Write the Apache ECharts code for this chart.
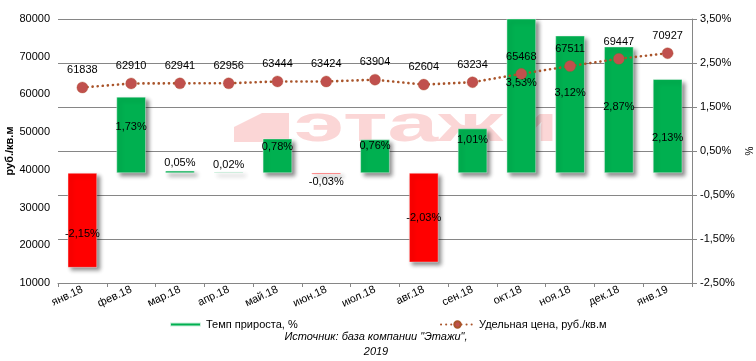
<!DOCTYPE html>
<html>
<head>
<meta charset="utf-8">
<script src="https://cdn.jsdelivr.net/npm/echarts@6/dist/echarts.min.js"></script>
<style>html,body{margin:0;padding:0;background:#fff;}#c{width:756px;height:361px;}</style>
</head>
<body>
<div id="c"></div>
<script>
// ---- data ----
var categories = ['янв.18','фев.18','мар.18','апр.18','май.18','июн.18','июл.18','авг.18','сен.18','окт.18','ноя.18','дек.18','янв.19'];
var growthPct = [-2.15, 1.73, 0.05, 0.02, 0.78, -0.03, 0.76, -2.03, 1.01, 3.53, 3.12, 2.87, 2.13];
var pricePerSqm = [61838, 62910, 62941, 62956, 63444, 63424, 63904, 62604, 63234, 65468, 67511, 69447, 70927];
var leftTicks = {min: 10000, max: 80000, step: 10000};
var rightTicks = {min: -2.5, max: 3.5, step: 1};
// style-only: vertical nudges of bar labels (px)
var barLabelDy = [14, -8, 0, 0, -9, 0, -10, 0, -11, -13, -11, -3, 12];

var FONT = "'Liberation Sans', Arial, sans-serif";
function pct(v){ return v.toFixed(2).replace('.', ',') + '%'; }

var chart = echarts.init(document.getElementById('c'), null, {renderer: 'canvas'});

var barData = growthPct.map(function(v, i){
  var small = Math.abs(v) < 0.1;
  return {
    value: v,
    itemStyle: {color: v >= 0 ? '#00B050' : '#FF0000'},
    label: {
      position: small ? (v >= 0 ? 'top' : 'bottom') : 'inside',
      distance: small ? 2 : 5,
      offset: [0, barLabelDy[i]]
    }
  };
});

var option = {
  animation: false,
  backgroundColor: '#ffffff',
  textStyle: {fontFamily: FONT},
  grid: {left: 58, right: 64, top: 19, bottom: 78, containLabel: false, outerBoundsMode: 'none'},
  graphic: [
    {type: 'polygon', z: -10, silent: true,
      shape: {points: [[234,142],[234,127],[262,113],[289,113],[289,142]]},
      style: {fill: '#FBD6D6'}},
    {type: 'text', z: -10, silent: true, x: 294, y: 127, scaleX: 1.75, scaleY: 1, originX: 0, originY: 0,
      style: {text: 'этажи', font: 'bold 52px ' + FONT, fill: '#FBD6D6', verticalAlign: 'middle', align: 'left'}},
    {type: 'text', silent: true, x: 376, y: 337,
      style: {text: 'Источник: база компании "Этажи",', font: 'italic 11px ' + FONT, fill: '#000', align: 'center', verticalAlign: 'middle'}},
    {type: 'text', silent: true, x: 376, y: 352,
      style: {text: '2019', font: 'italic 11px ' + FONT, fill: '#000', align: 'center', verticalAlign: 'middle'}}
  ],
  legend: [
    {left: 169, top: 319, itemWidth: 31, itemHeight: 4, itemGap: 5, padding: 0,
      textStyle: {fontSize: 11, color: '#000', fontFamily: FONT},
      data: [{name: 'Темп прироста, %', icon: 'rect', itemStyle: {color: '#00B050'}}]},
    {left: 440, top: 319, itemWidth: 33, itemHeight: 8, itemGap: 5, padding: 0,
      textStyle: {fontSize: 11, color: '#000', fontFamily: FONT},
      data: [{name: 'Удельная цена, руб./кв.м'}]}
  ],
  xAxis: {
    type: 'category', data: categories, boundaryGap: true,
    axisLine: {onZero: false, lineStyle: {color: '#868686', width: 1}},
    axisTick: {show: true, length: 4, lineStyle: {color: '#868686'}},
    axisLabel: {rotate: 25, interval: 0, fontSize: 11, color: '#000', margin: 6, fontFamily: FONT},
    splitLine: {show: false}
  },
  yAxis: [
    {type: 'value', position: 'left', min: leftTicks.min, max: leftTicks.max, interval: leftTicks.step,
      name: 'руб./кв.м', nameLocation: 'middle', nameGap: 43, nameRotate: 90, nameMoveOverlap: false,
      nameTextStyle: {fontSize: 11, fontWeight: 'bold', color: '#000', fontFamily: FONT},
      axisLine: {show: false}, axisTick: {show: false}, splitLine: {show: false},
      axisLabel: {fontSize: 11, color: '#000', margin: 8, fontFamily: FONT, formatter: function(v){ return String(v); }}},
    {type: 'value', position: 'right', min: rightTicks.min, max: rightTicks.max, interval: rightTicks.step,
      name: '%', nameLocation: 'middle', nameGap: 53, nameMoveOverlap: false,
      nameTextStyle: {fontSize: 10, color: '#000', fontFamily: FONT},
      axisLine: {show: true, lineStyle: {color: '#868686'}},
      axisTick: {show: true, length: 5, lineStyle: {color: '#868686'}},
      splitLine: {show: true, lineStyle: {color: '#868686', width: 1}},
      axisLabel: {fontSize: 11, color: '#000', margin: 8, fontFamily: FONT, formatter: function(v){ return pct(v); }}}
  ],
  series: [
    {name: 'Темп прироста, %', type: 'bar', yAxisIndex: 1, barWidth: '60%', clip: true, z: 2,
      itemStyle: {shadowColor: 'rgba(0,0,0,0.45)', shadowBlur: 4, shadowOffsetX: 3, shadowOffsetY: 3, borderColor: 'rgba(255,255,255,0.8)', borderWidth: 0.5},
      label: {show: true, fontSize: 11, color: '#000', fontFamily: FONT, formatter: function(p){ return pct(p.value); }},
      data: barData},
    {name: 'Удельная цена, руб./кв.м', type: 'line', yAxisIndex: 0, z: 5,
      symbol: 'circle', symbolSize: 11,
      itemStyle: {color: '#C0504D', borderColor: '#A9542A', borderWidth: 0.6, borderType: 'dotted'},
      lineStyle: {color: '#A9542A', width: 2.6, type: [0.1, 5], cap: 'round'},
      label: {show: true, position: 'top', distance: 6, fontSize: 11, color: '#000', fontFamily: FONT},
      data: pricePerSqm}
  ]
};
chart.setOption(option);
</script>
</body>
</html>
